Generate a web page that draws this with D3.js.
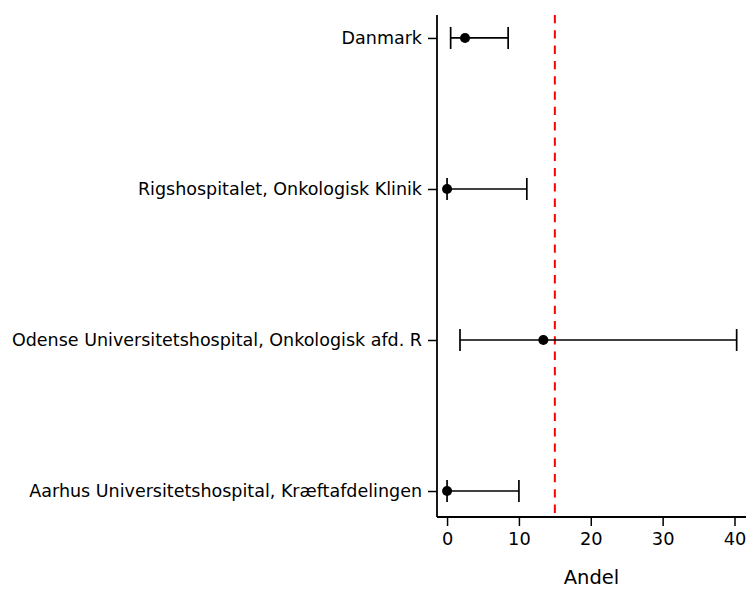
<!DOCTYPE html>
<html>
<head>
<meta charset="utf-8">
<script src="https://cdn.jsdelivr.net/npm/d3@7"></script>
<style>
  html, body { margin: 0; padding: 0; background: #fff; }
  svg { display: block; font-family: "DejaVu Sans", sans-serif; }
</style>
</head>
<body>
<svg id="chart" width="749" height="589"></svg>
<script>
// Units, listed bottom to top
const units = [
  "Aarhus Universitetshospital, Kræftafdelingen",
  "Odense Universitetshospital, Onkologisk afd. R",
  "Rigshospitalet, Onkologisk Klinik",
  "Danmark"
];
// Estimated share (Andel) with lower / upper confidence limits
const andel = [0, 13.4, 0, 2.5];
const lower = [0, 1.8, 0, 0.5];
const upper = [10.0, 40.3, 11.1, 8.5];
// Target level
const target = [15];
const xTicks = [0, 10, 20, 30, 40];

const FONT = "DejaVu Sans";
const svg = d3.select("#chart");

const x = d3.scaleLinear().domain([-1.4, 41.6]).range([437, 746]);
const y = d3.scaleLinear().domain([-0.172, 3.152]).range([517, 15]);

const black = "#000";

// x axis
const xAxis = d3.axisBottom(x).tickValues(xTicks).tickFormat(d3.format("d"))
  .tickSize(9).tickPadding(6).tickSizeOuter(0);
const gx = svg.append("g").attr("transform", `translate(0,${y.range()[0]})`).call(xAxis)
  .attr("font-family", FONT);
gx.select(".domain").attr("stroke-width", 1.8).attr("d", `M${x.range()[0]},0H${x.range()[1]}`);
gx.selectAll(".tick line").attr("stroke-width", 1.5);
gx.selectAll(".tick text").attr("font-size", 17.8).attr("fill", black);

// y axis
const yAxis = d3.axisLeft(y).tickValues(units.map((d, i) => i)).tickFormat(i => units[i])
  .tickSize(9).tickPadding(6).tickSizeOuter(0);
const gy = svg.append("g").attr("transform", `translate(${x.range()[0]},0)`).call(yAxis)
  .attr("font-family", FONT);
gy.select(".domain").attr("stroke-width", 1.8).attr("d", `M0,${y.range()[0]}V${y.range()[1]}`);
gy.selectAll(".tick line").attr("stroke-width", 1.5);
gy.selectAll(".tick text").attr("font-size", 17.5).attr("fill", black);

// axis title
svg.append("text")
  .attr("x", (x.range()[0] + x.range()[1]) / 2)
  .attr("y", 584)
  .attr("text-anchor", "middle")
  .attr("font-family", FONT)
  .attr("font-size", 19.5)
  .attr("fill", black)
  .text("Andel");

// target reference line
svg.selectAll("line.target").data(target).join("line")
  .attr("class", "target")
  .attr("x1", d => x(d)).attr("x2", d => x(d))
  .attr("y1", y.range()[1]).attr("y2", y.range()[0])
  .attr("stroke", "#ff0000")
  .attr("stroke-width", 2)
  .attr("stroke-dasharray", "8.3,7");

// error bars
const rows = units.map((u, i) => ({ i, v: andel[i], lo: lower[i], hi: upper[i] }));
const cap = 11;
const eb = svg.append("g").attr("stroke", black).attr("stroke-width", 1.7);
eb.selectAll("line.span").data(rows).join("line")
  .attr("x1", d => x(d.lo)).attr("x2", d => x(d.hi))
  .attr("y1", d => y(d.i)).attr("y2", d => y(d.i));
eb.selectAll("line.lo").data(rows).join("line")
  .attr("x1", d => x(d.lo)).attr("x2", d => x(d.lo))
  .attr("y1", d => y(d.i) - cap).attr("y2", d => y(d.i) + cap);
eb.selectAll("line.hi").data(rows).join("line")
  .attr("x1", d => x(d.hi)).attr("x2", d => x(d.hi))
  .attr("y1", d => y(d.i) - cap).attr("y2", d => y(d.i) + cap);

// point estimates
svg.append("g").selectAll("circle").data(rows).join("circle")
  .attr("cx", d => x(d.v)).attr("cy", d => y(d.i))
  .attr("r", 5)
  .attr("fill", black);
</script>
</body>
</html>
